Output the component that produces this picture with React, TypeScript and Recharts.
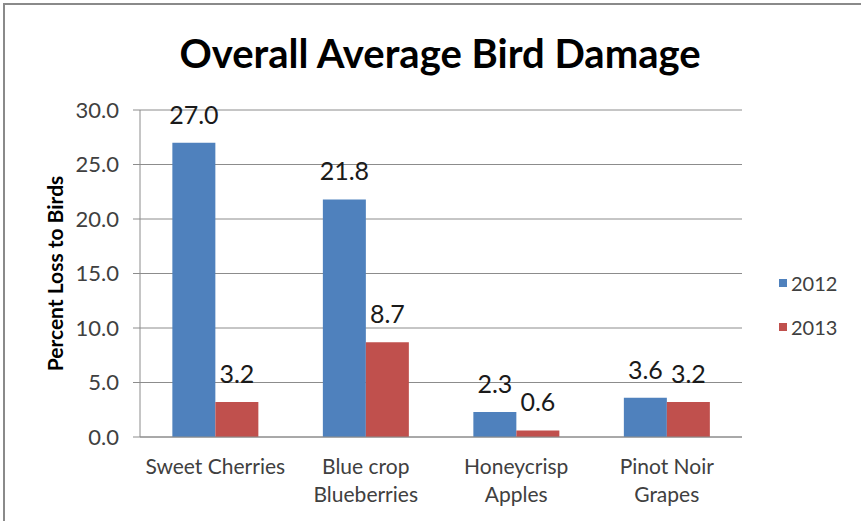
import React from 'react';
import { BarChart, Bar, XAxis, YAxis, CartesianGrid, LabelList } from 'recharts';

const crops = ['Sweet Cherries', 'Blue crop\nBlueberries', 'Honeycrisp\nApples', 'Pinot Noir\nGrapes'];
const loss2012 = [27.0, 21.8, 2.3, 3.6];
const loss2013 = [3.2, 8.7, 0.6, 3.2];
const yTicks = [0, 5, 10, 15, 20, 25, 30];
const years = ['2012', '2013'];

const FONT = 'Lato, "Open Sans", sans-serif';
const BLUE = '#4F81BD';
const RED = '#C0504D';
const yearColors = [BLUE, RED];

const chartData = crops.map((crop, i) => ({ crop, y2012: loss2012[i], y2013: loss2013[i] }));

// two-line category labels, split on \n
const CropTick = ({ x, y, payload }: any) => {
  const lines = String(payload.value).split('\n');
  return (
    <text x={x} y={y} textAnchor="middle" fill="#404040" fontSize={21} fontFamily={FONT}>
      {lines.map((line, i) => (
        <tspan key={i} x={x} dy={i === 0 ? 37 : 28}>{line}</tspan>
      ))}
    </text>
  );
};

const fmt = (v: any) => Number(v).toFixed(1);

export default function App() {
  return (
    <div style={{ position: 'absolute', left: 0, top: 0, width: 861, height: 521, background: '#fff', overflow: 'hidden' }}>
      <div style={{ position: 'absolute', left: 3, top: 3, width: 1000, height: 700, borderLeft: '2px solid #8a8a8a', borderTop: '2px solid #8a8a8a' }} />
      <div
        style={{
          position: 'absolute', left: 0, width: 880, top: 30, textAlign: 'center',
          fontFamily: FONT, fontWeight: 700, fontSize: 40, lineHeight: '46px', color: '#000',
        }}
      >
        Overall Average Bird Damage
      </div>
      <div style={{ position: 'absolute', left: 0, top: 0 }}>
        <BarChart
          width={861}
          height={521}
          data={chartData}
          margin={{ top: 110, right: 119, bottom: 20, left: 80 }}
          barCategoryGap="21.5%"
          barGap={0}
        >
          <CartesianGrid vertical={false} stroke="#8c8c8c" />
          <XAxis
            dataKey="crop"
            interval={0}
            height={64}
            tickLine={false}
            tickSize={0}
            tickMargin={0}
            axisLine={{ stroke: '#8c8c8c' }}
            tick={<CropTick />}
          />
          <YAxis
            width={60}
            domain={[0, 30]}
            ticks={yTicks}
            tickFormatter={fmt}
            tickSize={7}
            tickMargin={14}
            axisLine={{ stroke: '#8c8c8c' }}
            tickLine={{ stroke: '#8c8c8c' }}
            tick={{ fill: '#404040', fontSize: 22, fontFamily: FONT }}
            label={{
              value: 'Percent Loss to Birds', angle: -90, position: 'left', offset: 24,
              style: { fontFamily: FONT, fontWeight: 700, fontSize: 21, fill: '#000', textAnchor: 'middle' },
            }}
          />
          <Bar dataKey="y2012" name="2012" fill={BLUE} isAnimationActive={false}>
            <LabelList dataKey="y2012" position="top" offset={19} formatter={fmt} fill="#1a1a1a" fontSize={25} fontFamily={FONT} />
          </Bar>
          <Bar dataKey="y2013" name="2013" fill={RED} isAnimationActive={false}>
            <LabelList dataKey="y2013" position="top" offset={19} formatter={fmt} fill="#1a1a1a" fontSize={25} fontFamily={FONT} />
          </Bar>
        </BarChart>
      </div>
      {/* series key, right of the plot */}
      <div style={{ position: 'absolute', left: 779, top: 270, fontFamily: FONT, fontSize: 20, color: '#404040' }}>
        {years.map((year, i) => (
          <div key={year} style={{ display: 'flex', alignItems: 'center', height: 26, marginTop: i === 0 ? 0 : 18 }}>
            <span style={{ width: 8, height: 8, background: yearColors[i], marginRight: 4, display: 'inline-block' }} />
            <span>{year}</span>
          </div>
        ))}
      </div>
    </div>
  );
}
